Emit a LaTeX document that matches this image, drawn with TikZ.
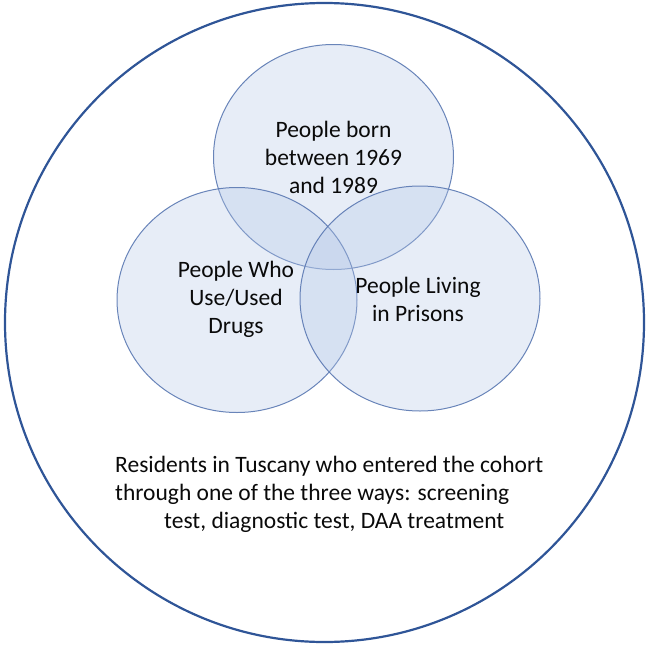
\documentclass[tikz,border=0pt]{standalone}
\usepackage{fontspec}
\setmainfont{Carlito}
\usetikzlibrary{shapes.geometric}
\definecolor{outerblue}{RGB}{47,85,151}
\definecolor{setfill}{RGB}{180,199,231}
\definecolor{setline}{RGB}{90,120,178}
\definecolor{txt}{RGB}{10,10,10}
\tikzset{
  setshape/.style={ellipse, minimum width=240pt, minimum height=225pt, inner sep=0pt,
    fill=setfill, fill opacity=0.32, draw=setline, draw opacity=0.9, line width=1pt},
  settext/.style={align=center, font=\fontsize{23.5}{28}\selectfont, text=txt},
}
\begin{document}
\begin{tikzpicture}[x=1pt,y=-1pt]
\useasboundingbox (0,0) rectangle (646,645);
\node[circle, draw=outerblue, line width=2.2pt, minimum size=639pt, inner sep=0pt] (outer) at (324.5,322.5) {};
\node[setshape] (top) at (333.5,157) {};
\node[setshape] (left) at (237,300) {};
\node[setshape] (right) at (420,298.5) {};
\node[settext] (ttop) at (top.center) {People born\\between 1969\\and 1989};
\node[settext] (tleft) at (236,299) {People Who\\Use/Used\\Drugs};
\node[settext] (tright) at (418,299) {People Living\\in Prisons};
\node[settext, align=left, anchor=north west, inner sep=0pt] (tbottom) at (115,456)
  {Residents in Tuscany who entered the cohort\\through one of the three ways: screening\\\hspace*{49pt}test, diagnostic test, DAA treatment};
\end{tikzpicture}
\end{document}
